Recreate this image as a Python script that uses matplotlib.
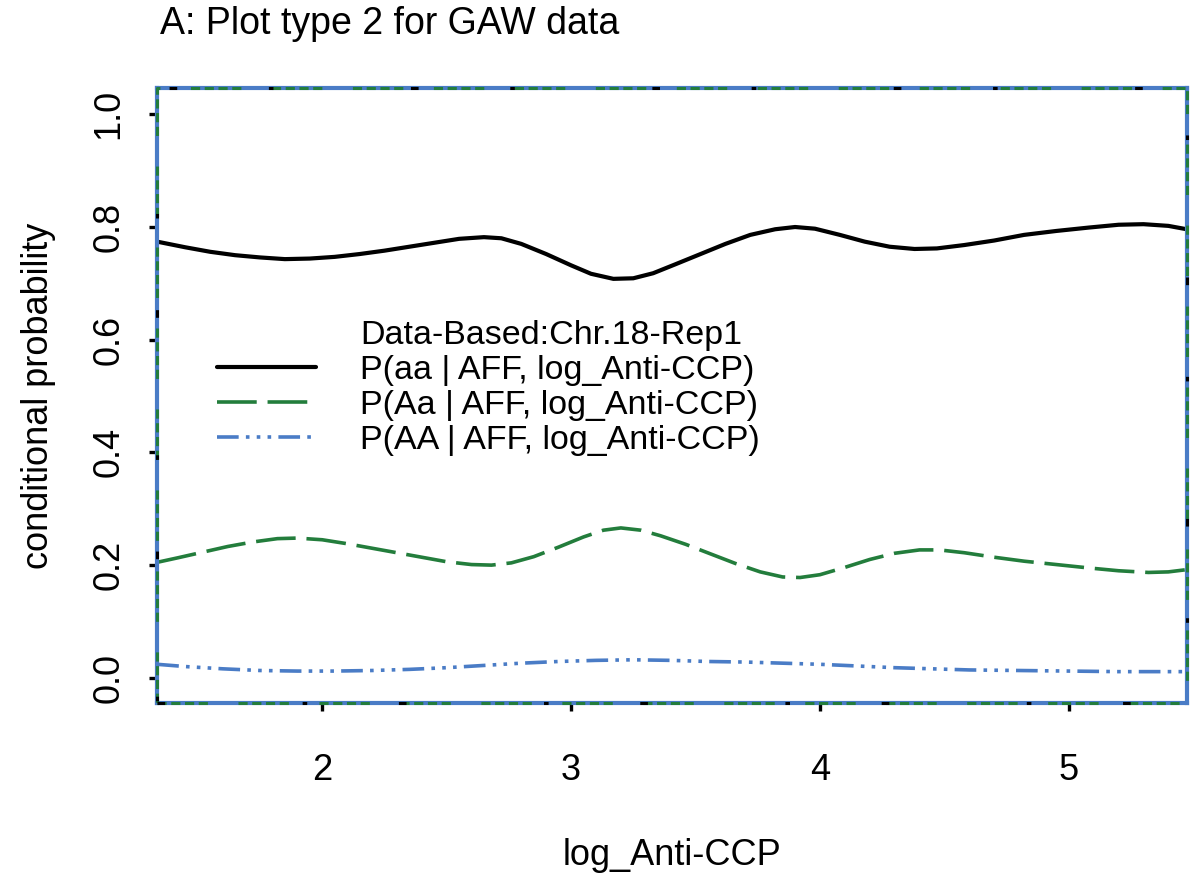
#!python3

import numpy as np
import matplotlib
matplotlib.use("Agg")
import matplotlib.pyplot as plt
from matplotlib.lines import Line2D

# valeurs
x_aa = [1.337, 1.45, 1.55, 1.65, 1.75, 1.85, 1.95, 2.05, 2.15, 2.25, 2.35, 2.45,
        2.55, 2.65, 2.72, 2.80, 2.90, 3.00, 3.08, 3.17, 3.25, 3.33, 3.42, 3.52,
        3.62, 3.72, 3.82, 3.90, 3.98, 4.08, 4.18, 4.28, 4.38, 4.47, 4.58, 4.70,
        4.82, 4.95, 5.08, 5.20, 5.30, 5.40, 5.474]
p_aa = [0.774, 0.764, 0.756, 0.750, 0.746, 0.743, 0.744, 0.747, 0.752, 0.758, 0.765, 0.772,
        0.779, 0.782, 0.780, 0.770, 0.752, 0.732, 0.717, 0.708, 0.709, 0.718, 0.734, 0.752,
        0.770, 0.786, 0.796, 0.800, 0.797, 0.786, 0.774, 0.765, 0.761, 0.762, 0.768, 0.776,
        0.786, 0.793, 0.799, 0.804, 0.805, 0.802, 0.796]

x_Aa = [1.337, 1.42, 1.52, 1.62, 1.72, 1.82, 1.90, 2.00, 2.10, 2.20, 2.30, 2.40,
        2.50, 2.60, 2.68, 2.76, 2.85, 2.95, 3.05, 3.13, 3.20, 3.28, 3.36, 3.46,
        3.56, 3.66, 3.76, 3.85, 3.92, 4.00, 4.10, 4.20, 4.30, 4.40, 4.48, 4.58,
        4.70, 4.82, 4.95, 5.08, 5.20, 5.32, 5.40, 5.474]
p_Aa = [0.205, 0.213, 0.223, 0.233, 0.241, 0.247, 0.248, 0.245, 0.238, 0.230, 0.222, 0.214,
        0.206, 0.201, 0.200, 0.204, 0.215, 0.232, 0.250, 0.262, 0.266, 0.262, 0.252, 0.237,
        0.220, 0.203, 0.188, 0.179, 0.178, 0.183, 0.196, 0.210, 0.221, 0.227, 0.227, 0.222,
        0.214, 0.207, 0.201, 0.195, 0.190, 0.187, 0.188, 0.192]

x_AA = [1.337, 1.45, 1.60, 1.75, 1.90, 2.05, 2.20, 2.35, 2.50, 2.65, 2.80, 2.95,
        3.10, 3.25, 3.40, 3.55, 3.70, 3.85, 4.00, 4.15, 4.30, 4.45, 4.60, 4.80,
        5.00, 5.20, 5.474]
p_AA = [0.024, 0.020, 0.016, 0.013, 0.012, 0.012, 0.013, 0.015, 0.018, 0.022, 0.026, 0.029,
        0.031, 0.032, 0.031, 0.029, 0.028, 0.026, 0.024, 0.021, 0.018, 0.016, 0.014, 0.013,
        0.012, 0.011, 0.011]

x_ticks = [2, 3, 4, 5]
y_ticks = [0.0, 0.2, 0.4, 0.6, 0.8, 1.0]

BLACK = "black"
GREEN = "#237d3c"
BLUE = "#4a7cc6"

plt.rcParams['font.family'] = ['Liberation Sans', 'DejaVu Sans']


def main():
    fig = plt.figure(figsize=(12, 8.75), dpi=100, facecolor="white")
    ax = fig.add_axes([0.131, 0.197, 0.858, 0.702])

    ax.plot(x_aa, p_aa, color=BLACK, lw=3.0, solid_capstyle="round",
            label="P(aa | AFF, log_Anti-CCP)")
    ax.plot(x_Aa, p_Aa, color=GREEN, lw=2.6, dashes=(11, 3),
            label="P(Aa | AFF, log_Anti-CCP)")
    ax.plot(x_AA, p_AA, color=BLUE, lw=2.6, dashes=(6, 2, 1, 2, 1, 2, 1, 2),
            label="P(AA | AFF, log_Anti-CCP)")

    ax.set_xlim(1.337, 5.474)
    ax.set_ylim(-0.044, 1.046)
    ax.set_xticks(x_ticks)
    ax.set_xticklabels([str(v) for v in x_ticks])
    ax.set_yticks(y_ticks)
    ax.set_yticklabels([f"{v:.1f}" for v in y_ticks], rotation=90, va="center")
    ax.tick_params(axis="both", direction="out", length=6, width=2.4,
                   color="black", labelsize=26)
    ax.tick_params(axis="x", pad=30)
    ax.tick_params(axis="y", pad=16)

    # cadre : bleu continu, tirets verts et noirs par-dessus
    for sp in ax.spines.values():
        sp.set_color(BLUE)
        sp.set_linewidth(3.0)
    bx = [0, 1, 1, 0, 0]
    by = [0, 0, 1, 1, 0]
    ax.plot(bx, by, transform=ax.transAxes, clip_on=False, color=GREEN,
            lw=2.2, dashes=(3, 1.5, 3, 1.5, 3, 1.5, 3, 10), zorder=5)
    ax.plot(bx, by, transform=ax.transAxes, clip_on=False, color=BLACK,
            lw=2.2, dashes=(2.5, 45, 1.5, 30), zorder=6)

    ax.set_xlabel("log_Anti-CCP", fontsize=26, labelpad=36)
    ax.set_ylabel("conditional probability", fontsize=26, labelpad=26)
    fig.text(0.133, 0.972, "A: Plot type 2 for GAW data", fontsize=27,
             ha="left", va="center")

    handles, labels = ax.get_legend_handles_labels()
    blank = Line2D([], [], color="none")
    ax.legend([blank] + handles, ["Data-Based:Chr.18-Rep1"] + labels,
              loc="upper left", bbox_to_anchor=(0.045, 0.645), frameon=False,
              fontsize=24.5, handlelength=2.9, handletextpad=1.3,
              labelspacing=0.12, borderaxespad=0)

    fig.savefig("out.png", dpi=100, facecolor="white")


if __name__ == "__main__":
    main()
